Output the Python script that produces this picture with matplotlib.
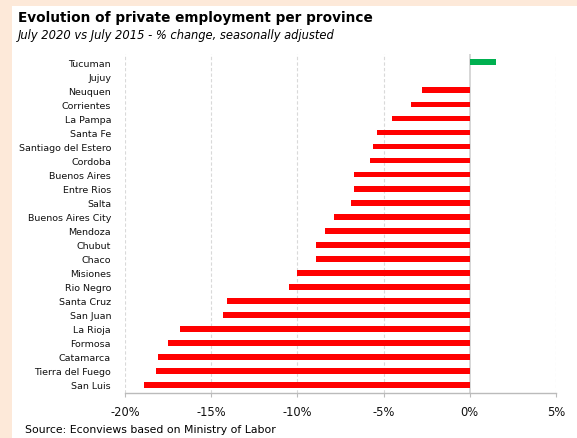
import matplotlib.pyplot as plt
from matplotlib.ticker import FuncFormatter

provinces = ["Tucuman", "Jujuy", "Neuquen", "Corrientes", "La Pampa", "Santa Fe",
             "Santiago del Estero", "Cordoba", "Buenos Aires", "Entre Rios", "Salta",
             "Buenos Aires City", "Mendoza", "Chubut", "Chaco", "Misiones", "Rio Negro",
             "Santa Cruz", "San Juan", "La Rioja", "Formosa", "Catamarca",
             "Tierra del Fuego", "San Luis"]
change = [1.5, 0.0, -2.8, -3.4, -4.5, -5.4, -5.6, -5.8, -6.7, -6.7, -6.9,
          -7.9, -8.4, -8.9, -8.9, -10.0, -10.5, -14.1, -14.3, -16.8, -17.5,
          -18.1, -18.2, -18.9]
xticks = [-20, -15, -10, -5, 0, 5]

plt.rcParams['font.family'] = ['DejaVu Sans']

fig = plt.figure(figsize=(5.77, 4.39), dpi=100)
fig.patch.set_facecolor('#fde9d9')

# white panel behind the chart
bg = fig.add_axes([12 / 577, 0, 1 - 12 / 577, 1 - 7 / 439], zorder=-1)
bg.set_facecolor('white')
bg.set_xticks([])
bg.set_yticks([])
for s in bg.spines.values():
    s.set_visible(False)

ax = fig.add_axes([125 / 577, 1 - 393.5 / 439, 431 / 577, 338.5 / 439], zorder=1)
ax.set_facecolor('none')

colors = ['#00b050' if v > 0 else '#ff0000' for v in change]
ax.barh(range(len(provinces)), change, height=0.42, color=colors, zorder=3)

ax.set_xlim(-20, 5)
ax.set_ylim(23.55, -0.6)
ax.set_yticks(range(len(provinces)))
ax.set_yticklabels(provinces, fontsize=6.8, color='#111111')
ax.tick_params(axis='y', length=0, pad=10)

ax.set_xticks(xticks)
ax.xaxis.set_major_formatter(FuncFormatter(lambda v, p: f"{v:.0f}%"))
ax.tick_params(axis='x', direction='out', length=3, color='#bbbbbb',
               labelsize=8.3, pad=6, labelcolor='#111111')

for x in xticks:
    if x == 0:
        ax.axvline(x, color='#d0d0d0', lw=1.2, zorder=2)
    else:
        ax.axvline(x, color='#d9d9d9', lw=0.8, ls=(0, (3, 2)), zorder=1)

for s in ['top', 'right', 'left']:
    ax.spines[s].set_visible(False)
ax.spines['bottom'].set_color('#bbbbbb')
ax.spines['bottom'].set_linewidth(1.0)

fig.text(18 / 577, 1 - 18 / 439, "Evolution of private employment per province",
         fontsize=9.8, fontweight='bold', va='center', ha='left', color='black')
fig.text(18 / 577, 1 - 36 / 439, "July 2020 vs July 2015 - % change, seasonally adjusted",
         fontsize=8.3, fontstyle='italic', va='center', ha='left', color='black')
fig.text(25 / 577, 1 - 430 / 439, "Source: Econviews based on Ministry of Labor",
         fontsize=7.8, va='center', ha='left', color='black')

fig.savefig('out.png', dpi=100, facecolor=fig.get_facecolor())
